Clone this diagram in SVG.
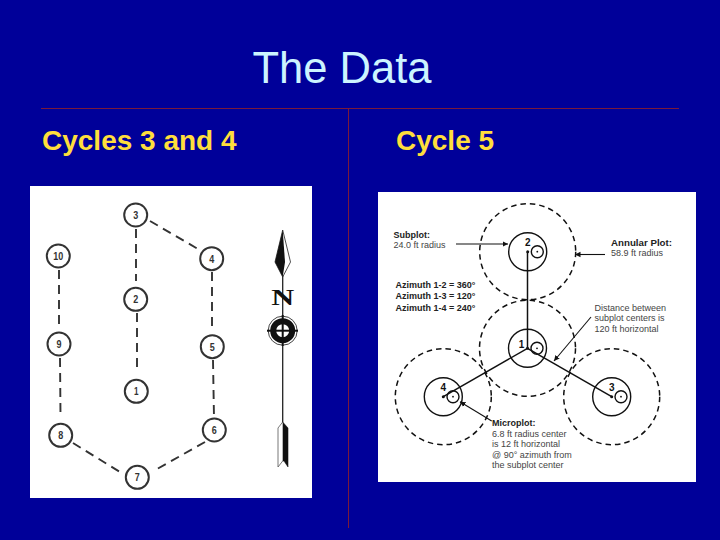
<svg xmlns="http://www.w3.org/2000/svg" width="720" height="540" viewBox="0 0 720 540">
<defs>
<style>
.sans{font-family:"Liberation Sans",Arial,sans-serif}
.head{font-size:28px;font-weight:bold;fill:#ffde3c}
.ring{fill:#fff;stroke:#333;stroke-width:2}
.num{font-size:11px;font-weight:bold;fill:#333;text-anchor:middle}
.dash{fill:none;stroke:#333;stroke-width:1.900;stroke-dasharray:9 6}
.sub{fill:none;stroke:#111;stroke-width:1.400}
.ann{fill:none;stroke:#111;stroke-width:1.500;stroke-dasharray:5.500 4}
.solid{fill:none;stroke:#111;stroke-width:1.100}
.axis{fill:none;stroke:#111;stroke-width:1.500}
.t{font-size:9px;fill:#444}
.b{font-size:9px;fill:#222;font-weight:bold}
.n5{font-size:10px;fill:#111;font-weight:bold;text-anchor:middle}
</style>
<marker id="ah" markerWidth="6" markerHeight="6" refX="5" refY="3" orient="auto"><path d="M0 0.500L5 3L0 5.500Z" fill="#111"/></marker>
</defs>
<rect width="720" height="540" fill="#000099"/>
<text class="sans" x="342" y="83" font-size="43.500" fill="#ccf4ff" text-anchor="middle">The Data</text>
<g fill="none" stroke="#7a1a3a" stroke-width="1">
<line x1="41" y1="108.500" x2="679" y2="108.500"/>
<line x1="348.500" y1="108" x2="348.500" y2="528"/>
</g>
<text class="sans head" x="42" y="150">Cycles 3 and 4</text>
<text class="sans head" x="396" y="150">Cycle 5</text>

<rect id="left-panel" x="30" y="186" width="282" height="312" fill="#fff"/>
<g id="connectors-left">
<line class="dash" x1="136" y1="229" x2="136" y2="281"/>
<line class="dash" x1="137" y1="313" x2="137" y2="371"/>
<line class="dash" x1="150" y1="221" x2="198" y2="249"/>
<line class="dash" x1="212" y1="272" x2="212" y2="327"/>
<line class="dash" x1="213" y1="360" x2="214" y2="418"/>
<line class="dash" x1="205" y1="442" x2="157" y2="469"/>
<line class="dash" x1="73" y1="443" x2="120" y2="472"/>
<line class="dash" x1="60" y1="358" x2="60.500" y2="416"/>
<line class="dash" x1="59" y1="270" x2="59" y2="326"/>
</g>
<g id="n1"><circle class="ring" cx="136.300" cy="391.300" r="11.500"/><text class="sans num" x="136.300" y="395.300" textLength="4.500" lengthAdjust="spacingAndGlyphs">1</text></g>
<g id="n2"><circle class="ring" cx="135.700" cy="299.300" r="11.500"/><text class="sans num" x="135.700" y="303.300" textLength="5" lengthAdjust="spacingAndGlyphs">2</text></g>
<g id="n3"><circle class="ring" cx="135.700" cy="215" r="11.500"/><text class="sans num" x="135.700" y="219" textLength="5" lengthAdjust="spacingAndGlyphs">3</text></g>
<g id="n4"><circle class="ring" cx="211.700" cy="258.700" r="11.500"/><text class="sans num" x="211.700" y="262.700" textLength="5" lengthAdjust="spacingAndGlyphs">4</text></g>
<g id="n5"><circle class="ring" cx="212.300" cy="346.700" r="11.500"/><text class="sans num" x="212.300" y="350.700" textLength="5" lengthAdjust="spacingAndGlyphs">5</text></g>
<g id="n6"><circle class="ring" cx="214.300" cy="430" r="11.500"/><text class="sans num" x="214.300" y="434" textLength="5" lengthAdjust="spacingAndGlyphs">6</text></g>
<g id="n7"><circle class="ring" cx="137.300" cy="477.300" r="11.500"/><text class="sans num" x="137.300" y="481.300" textLength="5" lengthAdjust="spacingAndGlyphs">7</text></g>
<g id="n8"><circle class="ring" cx="60.700" cy="435.300" r="11.500"/><text class="sans num" x="60.700" y="439.300" textLength="5" lengthAdjust="spacingAndGlyphs">8</text></g>
<g id="n9"><circle class="ring" cx="59" cy="344" r="11.500"/><text class="sans num" x="59" y="348" textLength="5" lengthAdjust="spacingAndGlyphs">9</text></g>
<g id="n10"><circle class="ring" cx="58.300" cy="256" r="11.500"/><text class="sans num" x="58.300" y="260" textLength="10" lengthAdjust="spacingAndGlyphs">10</text></g>
<g id="north-arrow">
<line x1="282.700" y1="270" x2="282.700" y2="430" stroke="#222" stroke-width="1.300"/>
<path d="M282.700 230L290.500 262L282.700 277L275 262Z" fill="#fff" stroke="#222" stroke-width="0.800"/>
<path d="M282.700 230L285 262L282.700 277L275 262Z" fill="#111"/>
<path d="M282.700 422L288 428V467L284 461L282.700 461L278 467V428Z" fill="#fff" stroke="#555" stroke-width="0.800"/>
<path d="M282.700 422L288 428V467L284 461L282.700 461Z" fill="#111"/>
<text x="282.700" y="305" font-family="'Liberation Serif',serif" font-size="24" font-weight="bold" fill="#111" text-anchor="middle" textLength="23" lengthAdjust="spacingAndGlyphs">N</text>
<circle cx="282.700" cy="330.700" r="14.500" fill="#fff" stroke="#444" stroke-width="1"/>
<circle cx="282.700" cy="330.700" r="9.500" fill="none" stroke="#111" stroke-width="6"/>
<line x1="267" y1="330.700" x2="298" y2="330.700" stroke="#111" stroke-width="2"/>
<line x1="282.700" y1="315" x2="282.700" y2="346" stroke="#111" stroke-width="2"/>
</g>

<rect id="right-panel" x="378" y="192" width="318" height="290" fill="#fff"/>
<g id="connectors-right">
<line class="axis" x1="527.500" y1="252" x2="527.500" y2="348"/>
<line class="axis" x1="527.500" y1="348.300" x2="443.300" y2="396.700"/>
<line class="axis" x1="527.500" y1="348.300" x2="611.700" y2="396.700"/>
<line class="solid" x1="456" y1="244" x2="508" y2="244" marker-end="url(#ah)"/>
<line class="solid" x1="605" y1="254.500" x2="575" y2="254.500" marker-end="url(#ah)"/>
<line class="solid" x1="591" y1="317" x2="554" y2="361" marker-end="url(#ah)"/>
<line class="solid" x1="491.700" y1="421" x2="460" y2="401.700" marker-end="url(#ah)"/>
</g>
<g id="plot-1"><circle class="ann" cx="527.500" cy="348.300" r="48"/><circle class="sub" cx="527.500" cy="348.300" r="19"/><circle class="sub" cx="537" cy="348.300" r="6"/><circle cx="537" cy="348.300" r="0.900" fill="#111"/><circle cx="527.500" cy="348.300" r="1.500" fill="#111"/><text class="sans n5" x="521.500" y="348">1</text></g>
<g id="plot-2"><circle class="ann" cx="527.700" cy="251.700" r="48"/><circle class="sub" cx="527.700" cy="251.700" r="19"/><circle class="sub" cx="537.300" cy="251.700" r="6"/><circle cx="537.300" cy="251.700" r="0.900" fill="#111"/><circle cx="527.700" cy="251.700" r="1.500" fill="#111"/><text class="sans n5" x="527.700" y="246">2</text></g>
<g id="plot-3"><circle class="ann" cx="611.700" cy="396.700" r="48"/><circle class="sub" cx="611.700" cy="396.700" r="19"/><circle class="sub" cx="621" cy="396.700" r="6"/><circle cx="621" cy="396.700" r="0.900" fill="#111"/><circle cx="611.700" cy="396.700" r="1.500" fill="#111"/><text class="sans n5" x="611.700" y="391">3</text></g>
<g id="plot-4"><circle class="ann" cx="443.300" cy="396.700" r="48"/><circle class="sub" cx="443.300" cy="396.700" r="19"/><circle class="sub" cx="453" cy="396.700" r="6"/><circle cx="453" cy="396.700" r="0.900" fill="#111"/><circle cx="443.300" cy="396.700" r="1.500" fill="#111"/><text class="sans n5" x="443.300" y="391">4</text></g>
<g class="sans">
<text class="b" x="393.500" y="238">Subplot:</text>
<text class="t" x="393.500" y="248.300">24.0 ft radius</text>
<text class="b" x="611" y="246" textLength="61" lengthAdjust="spacingAndGlyphs">Annular Plot:</text>
<text class="t" x="611" y="256">58.9 ft radius</text>
<text class="b" x="395.500" y="287.700">Azimuth 1-2 = 360°</text>
<text class="b" x="395.500" y="299">Azimuth 1-3 = 120°</text>
<text class="b" x="395.500" y="311">Azimuth 1-4 = 240°</text>
<text class="t" x="594.500" y="310.700">Distance between</text>
<text class="t" x="594.500" y="321">subplot centers is</text>
<text class="t" x="594.500" y="331.700">120 ft horizontal</text>
<text class="b" x="492" y="426">Microplot:</text>
<text class="t" x="492" y="436.700">6.8 ft radius center</text>
<text class="t" x="492" y="447.300">is 12 ft horizontal</text>
<text class="t" x="492" y="457.700">@ 90° azimuth from</text>
<text class="t" x="492" y="468.300">the subplot center</text>
</g>
</svg>
